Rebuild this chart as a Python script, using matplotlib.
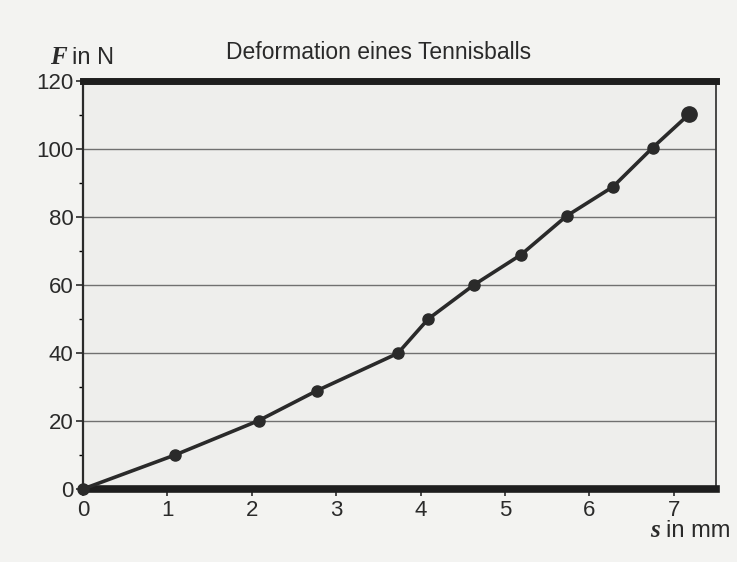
import matplotlib.pyplot as plt

# --- Messwerte: Deformation eines Tennisballs --- #
s_mm = [0, 1.09, 2.08, 2.77, 3.73, 4.09, 4.63, 5.19, 5.73, 6.28, 6.75, 7.18]
F_N = [0, 10, 20.1, 28.9, 39.9, 50, 60, 68.9, 80.3, 88.9, 100.4, 110.2]

x_ticks = [0, 1, 2, 3, 4, 5, 6, 7]
y_ticks = [0, 20, 40, 60, 80, 100, 120]
y_minor = [10, 30, 50, 70, 90, 110]

plt.rcParams['font.family'] = ['Liberation Sans', 'DejaVu Sans']

fig = plt.figure(figsize=(7.37, 5.62), dpi=100, facecolor='#f3f3f1')
ax = fig.add_axes([0.1126, 0.1299, 0.8589, 0.7260])
ax.set_facecolor('#eeeeec')

ax.set_xlim(0, 7.5)
ax.set_ylim(0, 120)

# grid
for y in y_ticks[1:-1]:
    ax.axhline(y, color='#707070', linewidth=1.0, zorder=1)

ax.plot(s_mm, F_N, color='#2a2a2a', linewidth=2.6, marker='o',
        markersize=8, zorder=3, clip_on=False)
ax.plot(s_mm[-1], F_N[-1], color='#2a2a2a', marker='o', markersize=11,
        zorder=3, clip_on=False)

# spines
ax.spines['top'].set_linewidth(5)
ax.spines['bottom'].set_linewidth(5.5)
ax.spines['top'].set_color('#1e1e1e')
ax.spines['bottom'].set_color('#1e1e1e')
ax.spines['left'].set_linewidth(1.6)
ax.spines['right'].set_linewidth(1.3)
ax.spines['left'].set_color('#2a2a2a')
ax.spines['right'].set_color('#3a3a3a')

ax.set_xticks(x_ticks)
ax.set_yticks(y_ticks)
ax.set_yticks(y_minor, minor=True)
ax.tick_params(axis='both', labelsize=16, colors='#2a2a2a')
ax.tick_params(axis='x', length=5, width=1.2, pad=3, direction='out')
ax.tick_params(axis='y', length=5, width=1.2, pad=2, direction='out')
ax.tick_params(axis='y', which='minor', length=3, width=1.0)

fig.text(0.513, 0.907, 'Deformation eines Tennisballs', ha='center',
         va='center', fontsize=16.5, color='#2a2a2a')
fig.text(0.068, 0.897, 'F', fontsize=18, ha='left', va='center',
         color='#2a2a2a', family='Liberation Serif', style='italic',
         weight='bold')
fig.text(0.098, 0.897, 'in N', fontsize=17, ha='left', va='center',
         color='#2a2a2a')
fig.text(0.882, 0.056, 's', fontsize=18, ha='left', va='center',
         color='#2a2a2a', family='Liberation Serif', style='italic',
         weight='bold')
fig.text(0.903, 0.056, 'in mm', fontsize=17, ha='left', va='center',
         color='#2a2a2a')

fig.savefig('out.png', dpi=100, facecolor=fig.get_facecolor())
